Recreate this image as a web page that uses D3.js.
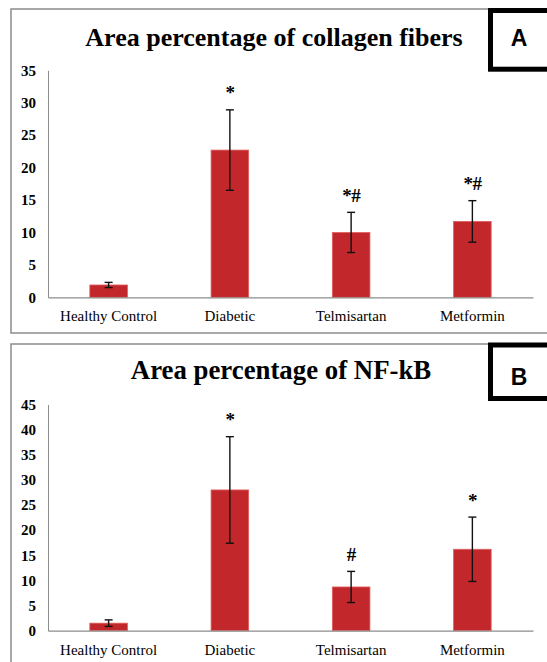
<!DOCTYPE html>
<html lang='en'>
  <head>
    <meta charset='utf-8'>
    <title>Area percentage bar charts</title>
    <script src='https://d3js.org/d3.v7.min.js'></script>
    <style>
      html, body {
        margin: 0;
        padding: 0;
        background: #fff;
      }
      svg {
        display: block;
      }
    </style>
  </head>
  <body>
    <div class='vis'></div>

    <script>
      // data
      const categories = ['Healthy Control', 'Diabetic', 'Telmisartan', 'Metformin'];

      const collagenMeans = [1.9, 22.7, 10.0, 11.7];
      const collagenErrors = [0.4, 6.2, 3.1, 3.2];
      const collagenMarks = ['', '*', '*#', '*#'];
      const collagenTicks = [0, 5, 10, 15, 20, 25, 30, 35];

      const nfkbMeans = [1.5, 28.0, 8.7, 16.2];
      const nfkbErrors = [0.65, 10.6, 3.1, 6.4];
      const nfkbMarks = ['', '*', '#', '*'];
      const nfkbTicks = [0, 5, 10, 15, 20, 25, 30, 35, 40, 45];

      const width = 547;
      const height = 662;
      const serif = "'Liberation Serif', 'Times New Roman', serif";

      const svg = d3.select('.vis')
        .append('svg')
          .attr('width', width)
          .attr('height', height);

      function drawPanel(opts) {
        const g = svg.append('g');

        // gray frame, runs off the right edge of the picture
        g.append('rect')
          .attr('x', 11)
          .attr('y', opts.frameTop)
          .attr('width', 560)
          .attr('height', opts.frameHeight)
          .attr('fill', 'none')
          .attr('stroke', '#8c8c8c')
          .attr('stroke-width', 1.5);

        const x = d3.scaleBand()
          .domain(categories)
          .range([48, 533])
          .paddingInner(0.69)
          .paddingOuter(0.345);

        const y = d3.scaleLinear()
          .domain([0, d3.max(opts.ticks)])
          .range([opts.base, opts.top]);

        const rows = categories.map((c, i) => ({
          cat: c, mean: opts.means[i], err: opts.errors[i], mark: opts.marks[i]
        }));

        // bars
        g.append('g').selectAll('rect')
          .data(rows).enter()
          .append('rect')
            .attr('x', (d) => x(d.cat))
            .attr('y', (d) => y(d.mean))
            .attr('width', x.bandwidth())
            .attr('height', (d) => y(0) - y(d.mean))
            .attr('fill', '#c2282b')
            .attr('stroke', '#e0605e')
            .attr('stroke-width', 0.8);

        // error bars
        const eb = g.append('g').selectAll('g')
          .data(rows).enter()
          .append('g')
            .attr('stroke', '#111')
            .attr('stroke-width', 1.4);
        const cx = (d) => x(d.cat) + x.bandwidth() / 2;
        eb.append('line')
          .attr('x1', cx).attr('x2', cx)
          .attr('y1', (d) => y(d.mean + d.err))
          .attr('y2', (d) => y(d.mean - d.err));
        eb.append('line')
          .attr('x1', (d) => cx(d) - 4).attr('x2', (d) => cx(d) + 4)
          .attr('y1', (d) => y(d.mean + d.err))
          .attr('y2', (d) => y(d.mean + d.err));
        eb.append('line')
          .attr('x1', (d) => cx(d) - 4).attr('x2', (d) => cx(d) + 4)
          .attr('y1', (d) => y(d.mean - d.err))
          .attr('y2', (d) => y(d.mean - d.err));

        // significance marks
        g.append('g').selectAll('text')
          .data(rows.filter((d) => d.mark)).enter()
          .append('text')
            .attr('x', cx)
            .attr('y', (d) => y(d.mean + d.err) - 10.5)
            .attr('text-anchor', 'middle')
            .style('font-family', serif)
            .style('font-weight', 'bold')
            .style('font-size', '19px')
            .style('letter-spacing', '-0.5px')
            .text((d) => d.mark);

        // axes
        const yAxis = d3.axisLeft(y)
          .tickValues(opts.ticks)
          .tickSize(0)
          .tickPadding(12);
        const ya = g.append('g')
          .attr('transform', 'translate(48,0)')
          .call(yAxis);
        ya.select('.domain').attr('stroke', '#8c8c8c');
        ya.selectAll('text')
          .style('font-family', serif)
          .style('font-weight', 'bold')
          .style('font-size', '15px')
          .attr('fill', '#000');

        const xAxis = d3.axisBottom(x).tickSize(0).tickPadding(13.5);
        const xa = g.append('g')
          .attr('transform', 'translate(0,' + opts.base + ')')
          .call(xAxis);
        xa.select('.domain').attr('stroke', '#8c8c8c').attr('stroke-width', 1.3);
        xa.selectAll('text')
          .style('font-family', serif)
          .style('font-size', '15px')
          .attr('fill', '#000');

        // title
        g.append('text')
          .attr('x', opts.titleX)
          .attr('y', opts.titleY)
          .attr('text-anchor', 'middle')
          .style('font-family', serif)
          .style('font-weight', 'bold')
          .style('font-size', opts.titleSize + 'px')
          .text(opts.title);

        // panel letter box
        g.append('rect')
          .attr('x', 490.5)
          .attr('y', opts.boxTop)
          .attr('width', 80)
          .attr('height', opts.boxHeight)
          .attr('fill', '#fff')
          .attr('stroke', '#000')
          .attr('stroke-width', 5);
        g.append('text')
          .attr('x', 519)
          .attr('y', opts.letterY)
          .attr('text-anchor', 'middle')
          .style('font-family', "'Liberation Sans', Arial, sans-serif")
          .style('font-weight', 'bold')
          .style('font-size', '23px')
          .text(opts.letter);
      }

      drawPanel({
        title: 'Area percentage of collagen fibers', titleX: 274, titleY: 46, titleSize: 26,
        letter: 'A', boxTop: 10.5, boxHeight: 58.7, letterY: 45.5,
        frameTop: 9, frameHeight: 324,
        means: collagenMeans, errors: collagenErrors, marks: collagenMarks, ticks: collagenTicks,
        base: 297.3, top: 70.3
      });

      drawPanel({
        title: 'Area percentage of NF-kB', titleX: 281, titleY: 379, titleSize: 26.8,
        letter: 'B', boxTop: 345, boxHeight: 53.5, letterY: 385,
        frameTop: 344, frameHeight: 400,
        means: nfkbMeans, errors: nfkbErrors, marks: nfkbMarks, ticks: nfkbTicks,
        base: 630.7, top: 404.5
      });
    </script>
  </body>
</html>
